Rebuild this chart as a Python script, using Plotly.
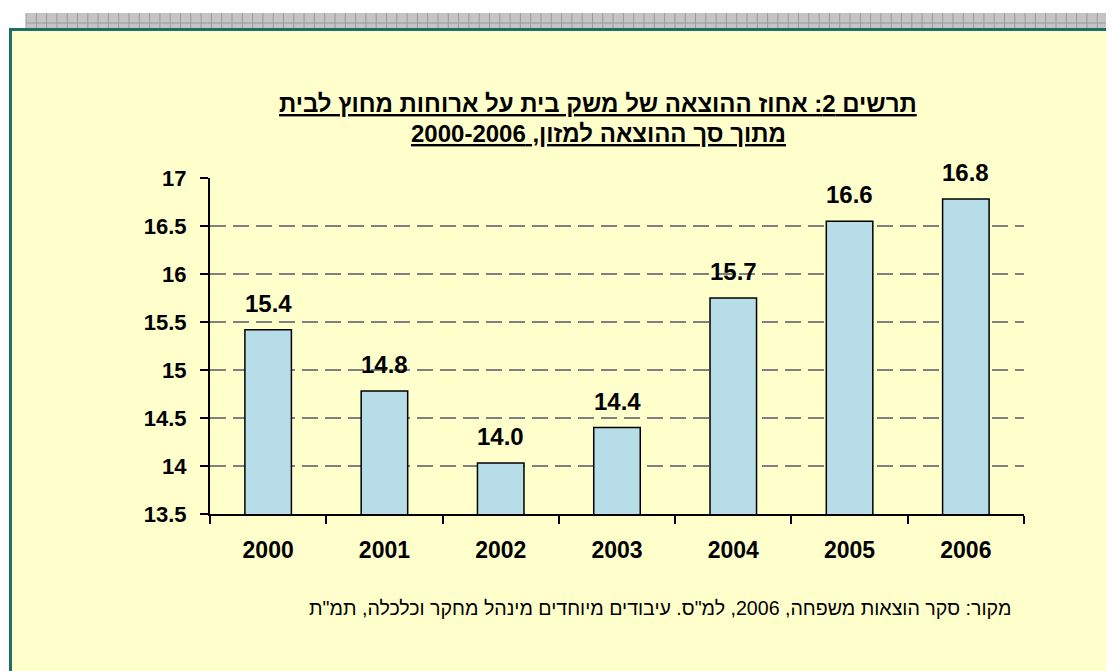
import plotly.graph_objects as go

years = ["2000", "2001", "2002", "2003", "2004", "2005", "2006"]
values = [15.42, 14.78, 14.03, 14.40, 15.75, 16.55, 16.78]
value_labels = ["15.4", "14.8", "14.0", "14.4", "15.7", "16.6", "16.8"]
y_ticks = [13.5, 14, 14.5, 15, 15.5, 16, 16.5, 17]
y_ticktext = ["13.5", "14", "14.5", "15", "15.5", "16", "16.5", "17"]
title_line1 = "תרשים 2: אחוז ההוצאה של משק בית על ארוחות מחוץ לבית"
title_line2 = "מתוך סך ההוצאה למזון, 2000-2006"
source_text = 'מקור: סקר הוצאות משפחה, 2006, למ"ס. עיבודים מיוחדים מינהל מחקר וכלכלה, תמ"ת'

# the page body has an 8px margin: all page positions are shifted by OFF
OFF = 8
W, H = 1114 - OFF, 671 - OFF
L, R, T, B = 210 - OFF, 1024 - OFF, 178 - OFF, 514 - OFF
FONT = "Arial, Liberation Sans, Arimo, sans-serif"


def fx(px):  # px = page pixel
    return (px - OFF - L) / (R - L)


def fy(py):
    return (B - (py - OFF)) / (B - T)


fig = go.Figure()
fig.add_trace(go.Bar(
    x=years, y=values,
    marker=dict(color="#B7DEE8", line=dict(color="black", width=1.5)),
    hoverinfo="skip",
))

shapes = []
# grey hatched band at top
shapes.append(dict(type="rect", xref="paper", yref="paper", layer="below",
                   x0=fx(26), x1=fx(1114), y0=fy(29), y1=fy(13),
                   fillcolor="#C4C4C4", line=dict(width=0)))
path = ""
xx = 26
while xx < 1114:
    path += f"M{fx(xx)},{fy(13)} L{fx(xx)},{fy(29)} "
    xx += 10.3
path += f"M{fx(26)},{fy(23)} L{fx(1114)},{fy(23)}"
shapes.append(dict(type="path", xref="paper", yref="paper", layer="below",
                   path=path, line=dict(color="#9A9A9A", width=1)))
# yellow panel
shapes.append(dict(type="rect", xref="paper", yref="paper", layer="below",
                   x0=fx(10.5), x1=fx(1110), y0=fy(700), y1=fy(29.5),
                   fillcolor="#FFFFCC", line=dict(color="#1F6F66", width=3)))

annotations = []
for i, (v, lab) in enumerate(zip(values, value_labels)):
    annotations.append(dict(x=i, y=v, xref="x", yref="y", text="<b>" + lab + "</b>",
                            showarrow=False, yanchor="bottom", yshift=11,
                            font=dict(family=FONT, size=24, color="black")))
annotations.append(dict(x=fx(598), y=fy(104), xref="paper", yref="paper",
                        text="<b><u>\u200f" + title_line1 + "\u200f</u></b>",
                        showarrow=False, xanchor="center", yanchor="middle",
                        font=dict(family=FONT, size=24, color="black")))
annotations.append(dict(x=fx(598), y=fy(133), xref="paper", yref="paper",
                        text="<b><u>\u200f" + title_line2 + "\u200f</u></b>",
                        showarrow=False, xanchor="center", yanchor="middle",
                        font=dict(family=FONT, size=24, color="black")))
annotations.append(dict(x=fx(1013), y=fy(608), xref="paper", yref="paper",
                        text="\u200f" + source_text + "\u200f",
                        showarrow=False, xanchor="right", yanchor="middle",
                        font=dict(family=FONT, size=19.6, color="black")))

fig.update_layout(
    width=W, height=H,
    margin=dict(l=L, r=W - R, t=T, b=H - B),
    paper_bgcolor="white",
    plot_bgcolor="rgba(0,0,0,0)",
    bargap=0.6,
    showlegend=False,
    shapes=shapes,
    annotations=annotations,
    font=dict(family=FONT, color="black"),
)
fig.update_xaxes(
    type="category",
    range=[-0.5, 6.5],
    showline=True, linecolor="black", linewidth=2,
    ticks="outside", ticklen=8, tickwidth=2, tickcolor="black",
    tickson="boundaries",
    tickangle=0,
    automargin=False,
    showgrid=False,
    tickfont=dict(family=FONT, size=23, color="black", weight="bold"),
    ticklabelstandoff=14,
)
fig.update_yaxes(
    range=[13.5, 17],
    tickvals=y_ticks, ticktext=y_ticktext,
    showline=True, linecolor="black", linewidth=2,
    ticks="outside", ticklen=8, tickwidth=2, tickcolor="black",
    showgrid=True, gridcolor="#808080", gridwidth=2, griddash="16px,7px",
    zeroline=False,
    automargin=False,
    tickfont=dict(family=FONT, size=22, color="black", weight="bold"),
    ticklabelstandoff=9,
)

fig.write_html("out.html")
